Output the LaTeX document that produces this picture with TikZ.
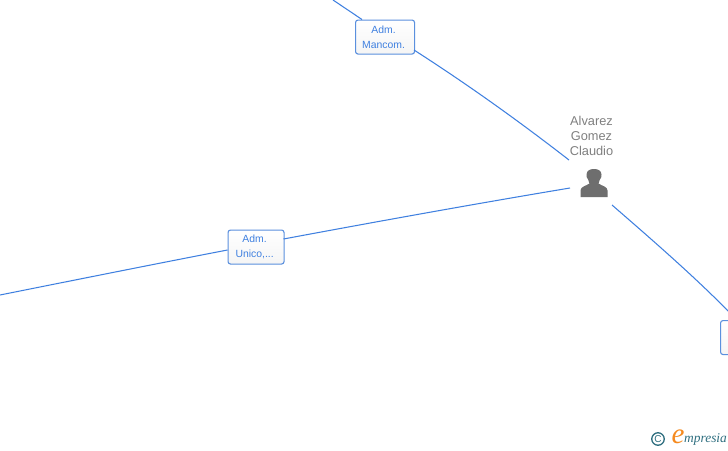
\documentclass[tikz,border=0pt]{standalone}
\usepackage{fontspec}
\setmainfont{Liberation Sans}
\newfontfamily\logofont{Liberation Serif}
\definecolor{linkblue}{HTML}{3F80E0}
\definecolor{boxblue}{HTML}{5B90DE}
\definecolor{labelblue}{HTML}{3F80E0}
\definecolor{persongrey}{HTML}{6E6E6E}
\definecolor{namegrey}{HTML}{808080}
\definecolor{logoteal}{HTML}{2F6F80}
\definecolor{logoorange}{HTML}{F58A1F}
\tikzset{
  link/.style={draw=linkblue,line width=1.05pt},
  rolebox/.style={draw=boxblue,line width=1.1pt,rounded corners=2.5pt,top color=white,bottom color=white!92!black!50,
    minimum height=34pt,anchor=north west,inner sep=0pt},
  rolelabel/.style={text=labelblue,font=\fontsize{10.4pt}{14.8pt}\selectfont,align=center,inner sep=0pt},
  personname/.style={text=namegrey,font=\fontsize{12.8pt}{15.2pt}\selectfont,align=center,inner sep=0pt},
}
\begin{document}
\begin{tikzpicture}[x=1pt,y=-1pt]
\useasboundingbox (0,0) rectangle (728,450);
\clip (0,0) rectangle (728,450);
\fill[white] (0,0) rectangle (728,450);
% nodes
\node[rolebox,minimum width=59pt] (mancom) at (355,19.5) {};
\node[rolelabel] (mancomtext) at (383.6,37) {Adm.\hspace{3pt}\\Mancom.};
\node[rolebox,minimum width=56pt] (unico) at (227.5,229.5) {};
\node[rolelabel] (unicotext) at (254.6,247) {Adm.\hspace{3pt}\\Unico,...};
\node[rolebox,minimum width=30pt] (other) at (720,320) {};
\node[personname] (name) at (591.5,136) {Alvarez\\Gomez\\Claudio};
\coordinate (person) at (594,184);
% free ends
\coordinate (a0) at (333,0);
\coordinate (a1) at (569,160);
\coordinate (b0) at (0,295);
\coordinate (b1) at (570,188);
\coordinate (c0) at (612,205);
\coordinate (c1) at (729,312);
% connectors
\draw[link] (a0) -- (362,19.5);
\draw[link] (414,50) .. controls (470,86) and (520,122) .. (a1);
\draw[link] (b0) .. controls (80,279) and (160,263) .. (227.5,250);
\draw[link] (283.5,239) .. controls (380,221) and (480,203) .. (b1);
\draw[link] (c0) .. controls (650,238) and (695,277) .. (c1);
% person icon
\fill[persongrey] (580.5,197) -- (580.5,190.5) .. controls (580.5,186.5) and (586,186) .. (589.5,183.5)
  .. controls (589.5,182) and (589,181.5) .. (588.3,180)
  .. controls (586.5,178) and (586.3,175.5) .. (586.5,174.5)
  .. controls (586.8,170.5) and (590,169) .. (594,169)
  .. controls (598,169) and (601.2,170.5) .. (601.5,174.5)
  .. controls (601.7,175.5) and (601.5,178) .. (599.7,180)
  .. controls (599,181.5) and (598.5,182) .. (598.5,183.5)
  .. controls (602,186) and (607.5,186.5) .. (607.5,190.5) -- (607.5,197) -- cycle;
% logo
\node[circle,draw=logoteal,line width=1.3pt,text=logoteal,inner sep=0pt,minimum size=12.5pt,font=\fontsize{10pt}{10pt}\selectfont] (copy) at (658,439) {C};
\node[text=logoorange,inner sep=0pt,font=\logofont\itshape\fontsize{29pt}{29pt}\selectfont] (elogo) at (678,436.5) {e};
\node[text=logoteal,inner sep=0pt,anchor=base west,font=\logofont\itshape\fontsize{13.4pt}{13.4pt}\selectfont] (mpresia) at (684,442.5) {mpresia};
\end{tikzpicture}
\end{document}
